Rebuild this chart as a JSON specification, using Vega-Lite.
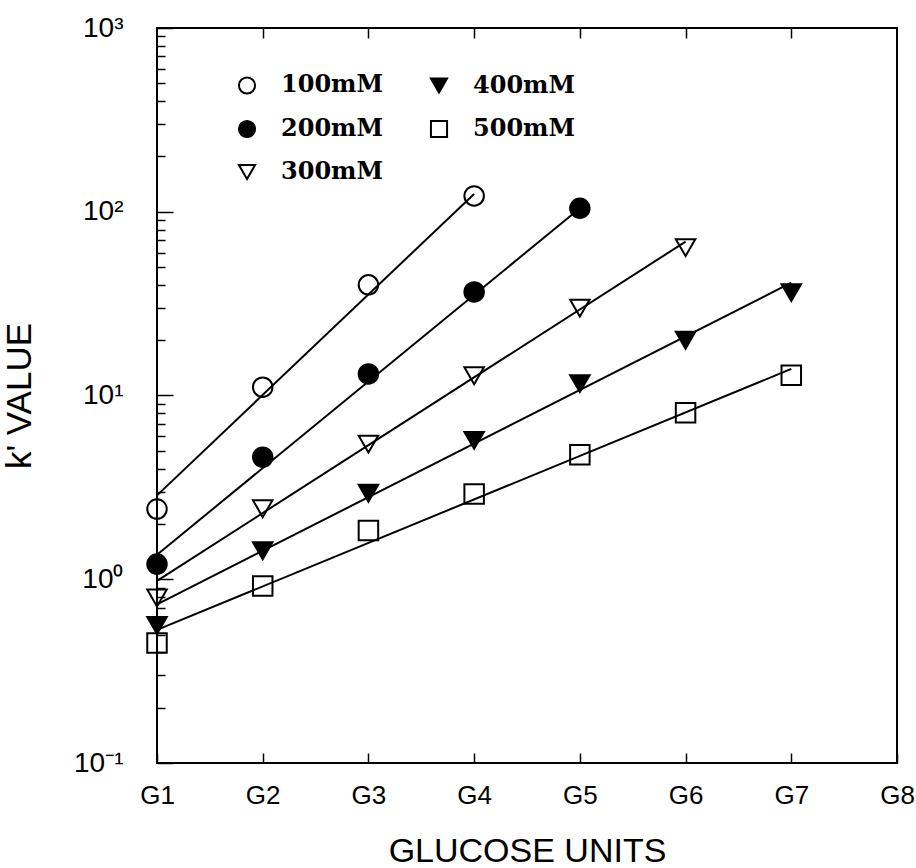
{
  "$schema": "https://vega.github.io/schema/vega-lite/v6.json",
  "width": 740,
  "height": 735,
  "autosize": {"type": "none"},
  "padding": {"left": 157, "top": 28, "right": 19, "bottom": 105},
  "background": "white",
  "config": {
    "view": {"stroke": "black", "strokeWidth": 2},
    "axis": {"grid": false, "domain": false, "labelFlush": false, "tickColor": "black", "labelColor": "black", "titleColor": "black", "labelFont": "Liberation Sans", "titleFont": "Liberation Sans", "titleFontWeight": "normal"}
  },
  "datasets": {
    "points": [
      {"series": "100mM", "g": 1, "k": 2.41}, {"series": "100mM", "g": 2, "k": 11.1}, {"series": "100mM", "g": 3, "k": 40}, {"series": "100mM", "g": 4, "k": 122},
      {"series": "200mM", "g": 1, "k": 1.21}, {"series": "200mM", "g": 2, "k": 4.62}, {"series": "200mM", "g": 3, "k": 13.1}, {"series": "200mM", "g": 4, "k": 36.6}, {"series": "200mM", "g": 5, "k": 104.5},
      {"series": "300mM", "g": 1, "k": 0.79}, {"series": "300mM", "g": 2, "k": 2.42}, {"series": "300mM", "g": 3, "k": 5.44}, {"series": "300mM", "g": 4, "k": 12.8}, {"series": "300mM", "g": 5, "k": 29.9}, {"series": "300mM", "g": 6, "k": 63.8},
      {"series": "400mM", "g": 1, "k": 0.56}, {"series": "400mM", "g": 2, "k": 1.43}, {"series": "400mM", "g": 3, "k": 2.94}, {"series": "400mM", "g": 4, "k": 5.7}, {"series": "400mM", "g": 5, "k": 11.6}, {"series": "400mM", "g": 6, "k": 20.0}, {"series": "400mM", "g": 7, "k": 36.3},
      {"series": "500mM", "g": 1, "k": 0.45}, {"series": "500mM", "g": 2, "k": 0.92}, {"series": "500mM", "g": 3, "k": 1.84}, {"series": "500mM", "g": 4, "k": 2.91}, {"series": "500mM", "g": 5, "k": 4.76}, {"series": "500mM", "g": 6, "k": 8.05}, {"series": "500mM", "g": 7, "k": 12.9}
    ],
    "fits": [
      {"series": "100mM", "g": 1, "k": 2.86}, {"series": "100mM", "g": 4, "k": 125},
      {"series": "200mM", "g": 1, "k": 1.36}, {"series": "200mM", "g": 5, "k": 104.5},
      {"series": "300mM", "g": 1, "k": 0.98}, {"series": "300mM", "g": 6, "k": 68.8},
      {"series": "400mM", "g": 1, "k": 0.73}, {"series": "400mM", "g": 7, "k": 41.1},
      {"series": "500mM", "g": 1, "k": 0.53}, {"series": "500mM", "g": 7, "k": 13.95}
    ]
  },
  "layer": [
    {
      "data": {"name": "fits"},
      "mark": {"type": "line", "color": "black", "strokeWidth": 2},
      "encoding": {
        "x": {"field": "g", "type": "quantitative", "scale": {"domain": [1, 8], "nice": false, "zero": false},
          "axis": {"orient": "bottom", "values": [1, 2, 3, 4, 5, 6, 7, 8], "labelExpr": "'G' + datum.value", "tickSize": -10, "tickWidth": 1.5, "labelPadding": 29, "labelFontSize": 26, "title": "GLUCOSE UNITS", "titleFontSize": 34, "titlePadding": 26}},
        "y": {"field": "k", "type": "quantitative", "scale": {"type": "log", "domain": [0.1, 1000], "nice": false},
          "axis": {"orient": "left", "values": [0.1, 1, 10, 100, 1000], "labelExpr": "datum.value > 500 ? '10³' : datum.value > 50 ? '10²' : datum.value > 5 ? '10¹' : datum.value > 0.5 ? '10⁰' : '10⁻¹'", "tickSize": -16, "tickWidth": 1.5, "labelFontSize": 28, "labelPadding": 50, "title": "k' VALUE", "titleFontSize": 35, "titlePadding": 36}},
        "detail": {"field": "series"}
      }
    },
    {
      "data": {"name": "points"},
      "mark": {"type": "point", "strokeWidth": 2, "size": 380, "opacity": 1},
      "encoding": {
        "x": {"field": "g", "type": "quantitative", "axis": {"orient": "top", "values": [2, 3, 4, 5, 6, 7], "labels": false, "tickSize": -10, "tickWidth": 1.5, "title": null}},
        "y": {"field": "k", "type": "quantitative", "axis": {"orient": "left", "values": [0.2, 0.3, 0.4, 0.5, 0.6, 0.7, 0.8, 0.9, 2, 3, 4, 5, 6, 7, 8, 9, 20, 30, 40, 50, 60, 70, 80, 90, 200, 300, 400, 500, 600, 700, 800, 900], "labels": false, "tickSize": -8, "tickWidth": 1.5, "title": null}},
        "shape": {"field": "series", "type": "nominal",
          "scale": {"domain": ["100mM", "200mM", "300mM", "400mM", "500mM"], "range": ["circle", "circle", "triangle-down", "triangle-down", "square"]},
          "legend": {"orient": "none", "legendX": 78, "legendY": 45, "columns": 2, "direction": "vertical", "title": null, "columnPadding": 42, "rowPadding": 18, "labelOffset": 22, "labelFont": "DejaVu Serif", "labelFontWeight": "bold", "labelFontSize": 24, "labelColor": "black", "symbolSize": 260, "symbolStrokeWidth": 2, "padding": 0}},
        "fill": {"field": "series", "type": "nominal",
          "scale": {"domain": ["100mM", "200mM", "300mM", "400mM", "500mM"], "range": ["transparent", "black", "transparent", "black", "transparent"]},
          "legend": {"orient": "none", "legendX": 78, "legendY": 45, "columns": 2, "direction": "vertical", "title": null, "columnPadding": 42, "rowPadding": 18, "labelOffset": 22, "labelFont": "DejaVu Serif", "labelFontWeight": "bold", "labelFontSize": 24, "labelColor": "black", "symbolSize": 260, "symbolStrokeWidth": 2, "padding": 0}},
        "stroke": {"field": "series", "type": "nominal",
          "scale": {"domain": ["100mM", "200mM", "300mM", "400mM", "500mM"], "range": ["black", "black", "black", "black", "black"]},
          "legend": {"orient": "none", "legendX": 78, "legendY": 45, "columns": 2, "direction": "vertical", "title": null, "columnPadding": 42, "rowPadding": 18, "labelOffset": 22, "labelFont": "DejaVu Serif", "labelFontWeight": "bold", "labelFontSize": 24, "labelColor": "black", "symbolSize": 260, "symbolStrokeWidth": 2, "padding": 0}}
      }
    }
  ],
  "resolve": {"axis": {"x": "independent", "y": "independent"}}
}
